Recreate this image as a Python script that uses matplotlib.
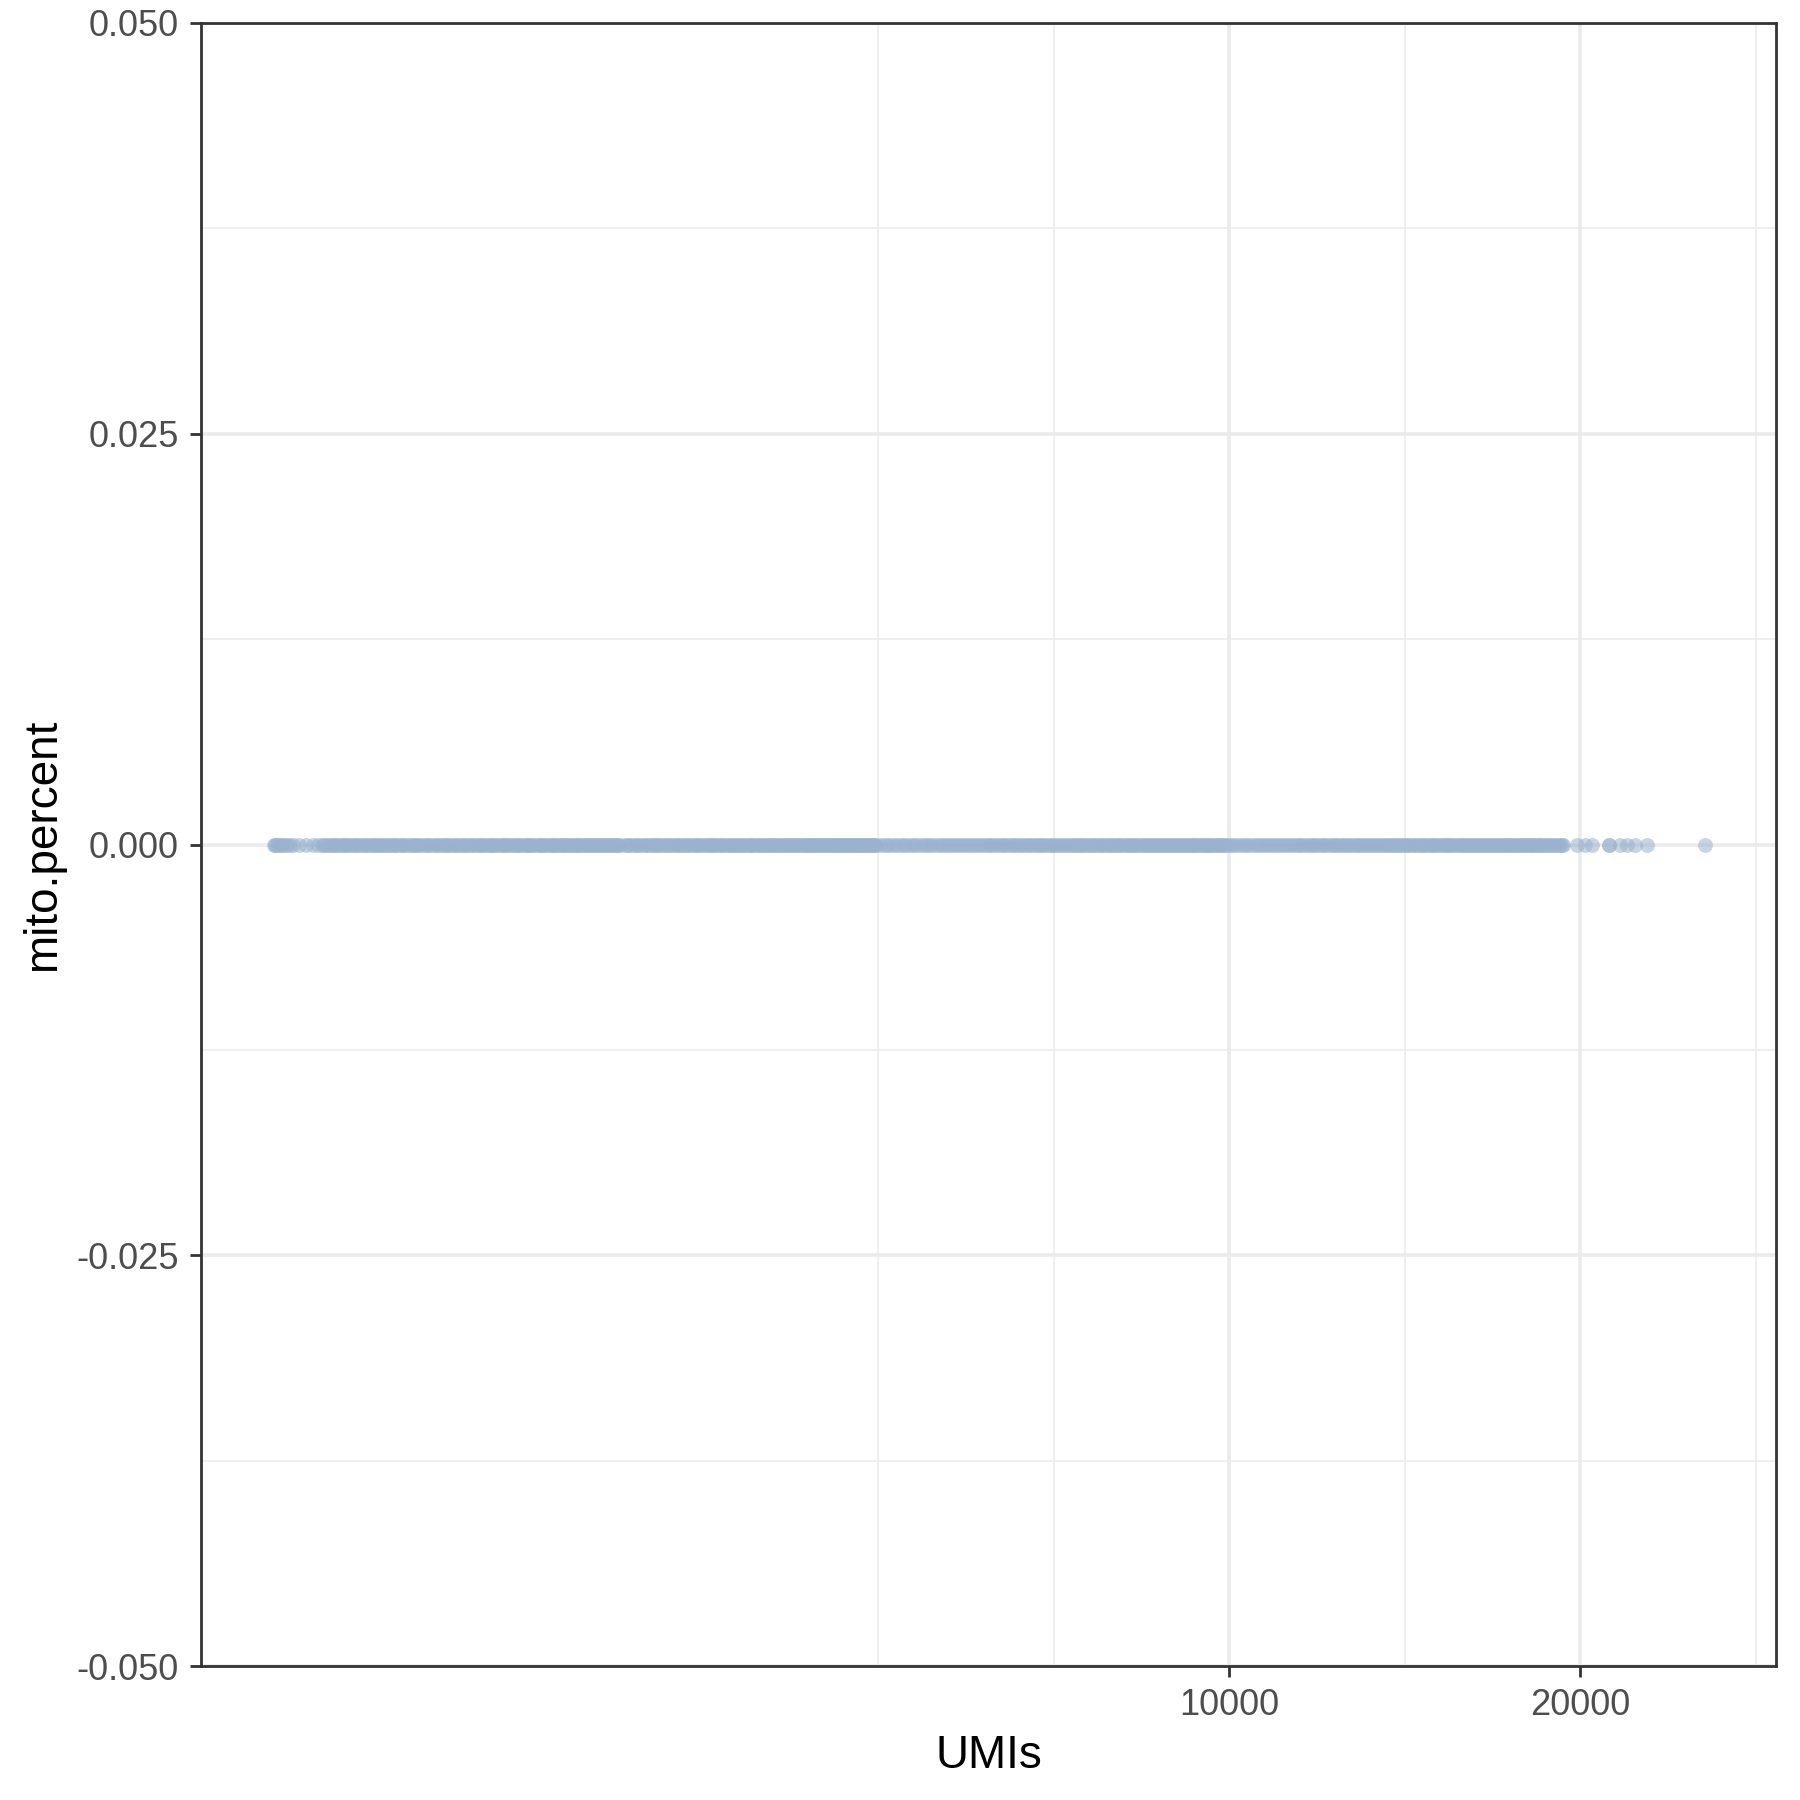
import matplotlib
matplotlib.use("Agg")
import matplotlib.pyplot as plt
from matplotlib.ticker import FixedLocator, NullFormatter, FixedFormatter

# ---- data ----
umis_left = [1515, 1518, 1522, 1527, 1533, 1540, 1548, 1556, 1565, 1575, 1592, 1614, 1638, 1652]
umis_a = [1665, 1679, 1696, 1708, 1726, 1741, 1753, 1772, 1785, 1803, 1817, 1836, 1849, 1867, 1881,
          1899, 1916, 1930, 1950, 1964, 1985, 2001]
umis_a2 = [1672, 1688, 1702, 1717, 1733, 1747, 1762, 1778, 1794, 1810, 1826, 1842, 1858, 1874, 1890,
           1907, 1923, 1940, 1957, 1975, 1993, 2010]
umis_b = [2019, 2042, 2058, 2081, 2099, 2122, 2139, 2161, 2178, 2203, 2219, 2241, 2262, 2279, 2301,
          2322, 2338, 2361, 2382, 2398, 2421, 2443, 2458, 2481, 2502, 2519, 2540, 2562, 2578, 2601,
          2623, 2638, 2661, 2682, 2699, 2718, 2742, 2759, 2781, 2803, 2818, 2841, 2859, 2882, 2898,
          2921, 2939, 2962, 2978, 3002]
umis_b2 = [2030, 2050, 2070, 2090, 2110, 2131, 2150, 2170, 2191, 2211, 2230, 2251, 2270, 2290, 2311,
           2330, 2350, 2371, 2390, 2410, 2432, 2450, 2470, 2491, 2510, 2530, 2551, 2570, 2590, 2612,
           2630, 2650, 2671, 2690, 2709, 2730, 2750, 2770, 2792, 2810, 2830, 2850, 2870, 2890, 2910,
           2930, 2951, 2970, 2990]
umis_c = [3031, 3058, 3092, 3119, 3151, 3178, 3212, 3239, 3271, 3298, 3332, 3361, 3389, 3422, 3449,
          3481, 3508, 3542, 3569, 3601, 3629, 3662, 3688, 3721, 3752, 3779, 3811, 3838, 3872, 3899,
          3931, 3958, 3991, 4019, 4052, 4078, 4112, 4139, 4171, 4198, 4232, 4259, 4291, 4322, 4348,
          4381, 4408, 4442, 4469, 4501, 4528, 4562, 4589, 4621, 4648, 4682, 4709, 4741, 4768, 4802,
          4829, 4861, 4888, 4922, 4949, 4981]
umis_c2 = [3045, 3075, 3105, 3135, 3165, 3195, 3225, 3255, 3285, 3315, 3346, 3375, 3405, 3435, 3465,
           3495, 3525, 3555, 3585, 3615, 3645, 3675, 3705, 3736, 3765, 3795, 3825, 3855, 3885, 3915,
           3945, 3975, 4005, 4035, 4065, 4095, 4125, 4155, 4185, 4215, 4245, 4275, 4306, 4335, 4365,
           4395, 4425, 4455, 4485, 4515, 4545, 4575, 4605, 4635, 4665, 4695, 4725, 4755, 4785, 4815,
           4845, 4875, 4905, 4935, 4965, 5015]
umis_d = [5052, 5118, 5191, 5259, 5332, 5398, 5471, 5538, 5612, 5679, 5751, 5818, 5892, 5958, 6031,
          6099, 6172, 6238, 6311, 6379, 6452, 6518, 6591, 6659, 6732, 6798, 6871, 6939, 7012, 7078,
          7151, 7219, 7292, 7358, 7431, 7499, 7572, 7638, 7711, 7779, 7852, 7918, 7991, 8059, 8132,
          8198, 8271, 8339, 8412, 8478, 8551, 8619, 8692, 8758, 8831, 8899, 8972, 9038, 9111, 9179,
          9252, 9318, 9391, 9459, 9532, 9598, 9671, 9739, 9812, 9878, 9951]
umis_d2 = [5085, 5155, 5225, 5295, 5365, 5435, 5505, 5575, 5645, 5715, 5785, 5855, 5925, 5995, 6065,
           6135, 6205, 6275, 6345, 6415, 6485, 6555, 6625, 6695, 6765, 6835, 6905, 6975, 7045, 7115,
           7185, 7255, 7325, 7395, 7465, 7535, 7605, 7675, 7745, 7815, 7885, 7955, 8025, 8095, 8165,
           8235, 8305, 8375, 8445, 8515, 8585, 8655, 8725, 8795, 8865, 8935, 9005, 9075, 9145, 9215,
           9285, 9355, 9425, 9495, 9565, 9635, 9705, 9775, 9845, 9915, 10015]
umis_e = [10082, 10211, 10339, 10472, 10598, 10731, 10859, 10992, 11118, 11251, 11379, 11512, 11638,
          11771, 11899, 12032, 12158, 12291, 12419, 12552, 12678, 12811, 12939, 13072, 13198, 13331,
          13459, 13592, 13718, 13851, 13979, 14112, 14238, 14371, 14499, 14632, 14758, 14891, 15019,
          15152, 15278, 15411, 15539, 15672, 15798, 15931, 16059, 16192, 16318, 16451, 16579, 16712,
          16838, 16971, 17099, 17232, 17358, 17491, 17619, 17752, 17878, 18011, 18139, 18272, 18398,
          18531]
umis_e2 = [10145, 10275, 10405, 10535, 10665, 10795, 10925, 11055, 11185, 11315, 11445, 11575, 11705,
           11835, 11965, 12095, 12225, 12355, 12485, 12615, 12745, 12875, 13005, 13135, 13265, 13395,
           13525, 13655, 13785, 13915, 14045, 14175, 14305, 14435, 14565, 14695, 14825, 14955, 15085,
           15215, 15345, 15475, 15605, 15735, 15865, 15995, 16125, 16255, 16385, 16515, 16645, 16775,
           16905, 17035, 17165, 17295, 17425, 17555, 17685, 17815, 17945, 18075, 18205, 18335, 18465,
           18610]
umis_tail = [18690, 18780, 18880, 18960, 19050, 19130, 19210, 19280, 19340, 19880, 20200, 20480,
             21180, 21190, 21650, 21950, 22300, 22830, 25600]

umis = (umis_left + umis_a + umis_a2 + umis_b + umis_b2 + umis_c + umis_c2 +
        umis_d + umis_d2 + umis_e + umis_e2 + umis_tail)
mito_percent = [0.0] * len(umis)

x_major_ticks = [10000, 20000]
x_major_labels = ["10000", "20000"]
x_minor_grid = [5000, 7071, 14142, 28284]
y_major_ticks = [-0.050, -0.025, 0.000, 0.025, 0.050]
y_major_labels = ["-0.050", "-0.025", "0.000", "0.025", "0.050"]
y_minor_grid = [-0.0375, -0.0125, 0.0125, 0.0375]
x_limits = (1312, 29450)
y_limits = (-0.05, 0.05)

# ---- figure ----
plt.rcParams['font.family'] = ['Liberation Sans', 'DejaVu Sans']
fig = plt.figure(figsize=(18, 18), dpi=100)
W, H = 1800, 1800
L, R, T, B = 201, 1776, 23, 1666
ax = fig.add_axes([L / W, 1 - B / H, (R - L) / W, (B - T) / H])

ax.set_xscale('log')
ax.set_xlim(*x_limits)
ax.set_ylim(*y_limits)

grid_col = '#EBEBEB'
for v in x_minor_grid:
    ax.axvline(v, color=grid_col, lw=1.1, zorder=0)
for v in x_major_ticks:
    ax.axvline(v, color=grid_col, lw=2.6, zorder=0)
for v in y_minor_grid:
    ax.axhline(v, color=grid_col, lw=1.1, zorder=0)
for v in y_major_ticks:
    ax.axhline(v, color=grid_col, lw=2.6, zorder=0)

ax.scatter(umis, mito_percent, s=115, color='#9AB2CE', alpha=0.55, linewidths=0, zorder=3)

ax.xaxis.set_major_locator(FixedLocator(x_major_ticks))
ax.xaxis.set_major_formatter(FixedFormatter(x_major_labels))
ax.xaxis.set_minor_locator(FixedLocator([]))
ax.xaxis.set_minor_formatter(NullFormatter())
ax.yaxis.set_major_locator(FixedLocator(y_major_ticks))
ax.yaxis.set_major_formatter(FixedFormatter(y_major_labels))

for s in ax.spines.values():
    s.set_color('#333333')
    s.set_linewidth(2.0)
    s.set_zorder(5)

ax.tick_params(axis='both', which='major', length=8, width=2.0, color='#333333',
               labelcolor='#4D4D4D', labelsize=26, pad=8)

ax.set_xlabel('UMIs', fontsize=33, color='black', labelpad=8)
ax.set_ylabel('mito.percent', fontsize=33, color='black', labelpad=8)

fig.savefig('out.png', dpi=100, facecolor='white')
